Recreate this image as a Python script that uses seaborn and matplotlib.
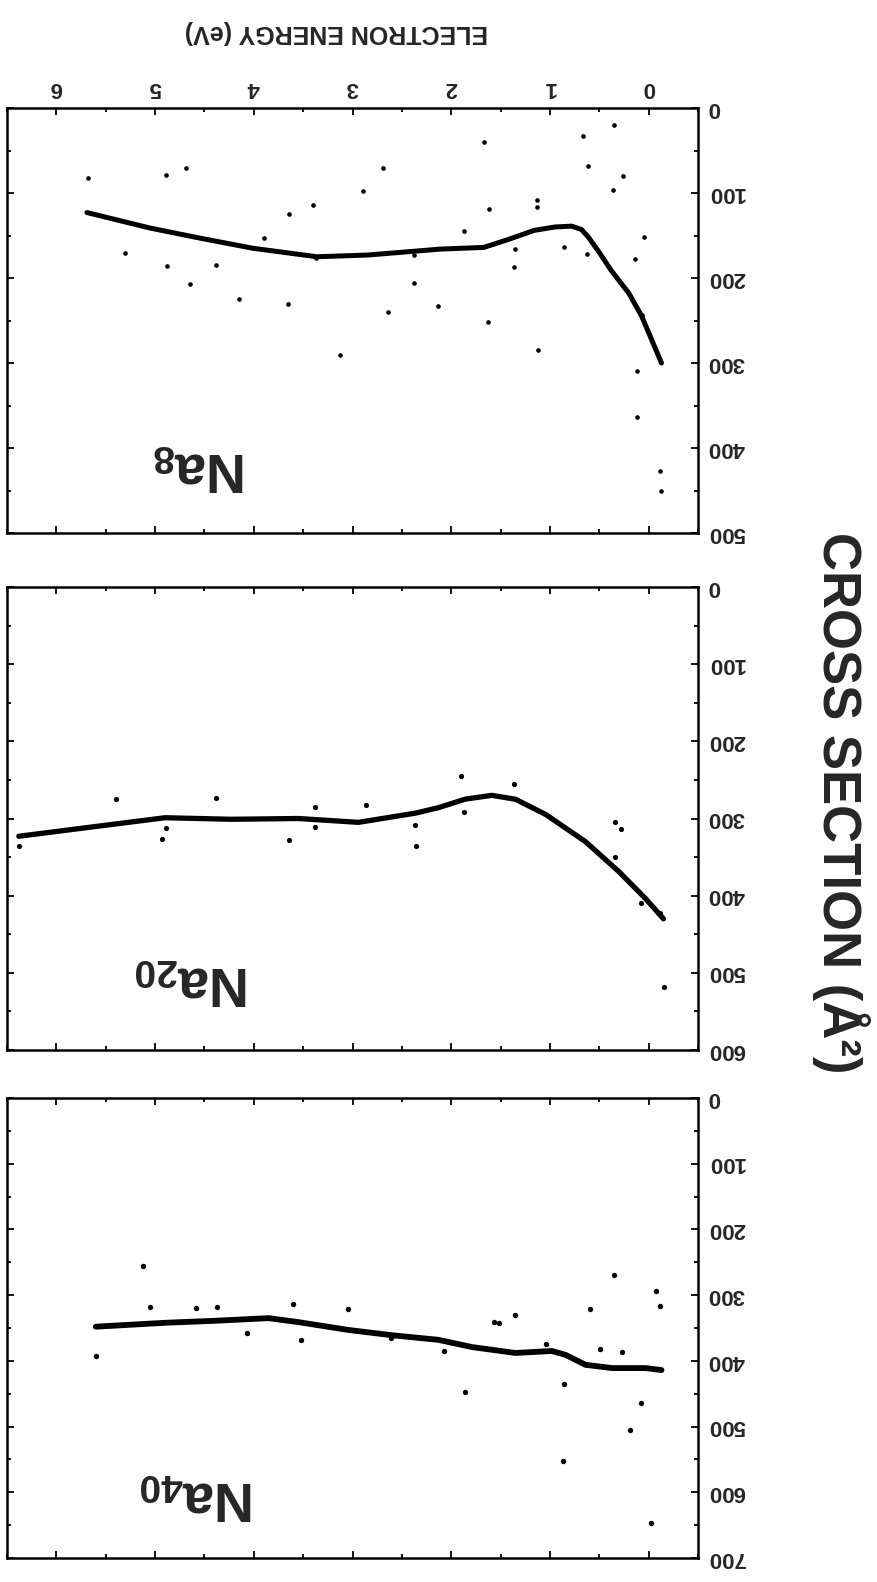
import seaborn as sns
import matplotlib.pyplot as plt
from matplotlib import ticker
from matplotlib.transforms import ScaledTranslation
import pandas as pd

# values: electron energy (eV) vs cross section (A^2)
na8_curve_e = [5.69, 5.06, 4.55, 4.01, 3.36, 2.85, 2.11, 1.67, 1.43, 1.16, 0.95, 0.78, 0.68, 0.61, 0.50, 0.38, 0.20, 0.07, -0.13]
na8_curve_s = [123, 141, 153, 165, 175, 173, 166, 164, 155, 144, 140, 139, 143, 152, 170, 191, 218, 245, 300]
na8_pts_e = [5.68, 4.89, 4.69, 2.69, 2.89, 3.40, 3.64, 3.90, 5.30, 4.88, 4.38, 4.65, 2.38, 4.15, 3.65,
             2.64, 2.13, 3.37, 2.38, 3.13, 0.35, 0.66, 1.67, 0.61, 0.26, 0.36, 1.13, 1.13, 1.62, 1.87,
             0.05, 1.35, 0.86, 0.62, 1.36, 0.14, 1.63, 1.12, 0.12, 0.12, -0.12, -0.13, 0.07]
na8_pts_s = [82, 79, 71, 70, 98, 114, 125, 153, 170, 186, 185, 207, 206, 225, 231,
             240, 233, 176, 173, 291, 20, 33, 40, 68, 80, 97, 108, 117, 119, 145,
             152, 166, 164, 172, 187, 178, 252, 285, 309, 363, 427, 451, 243]

na20_curve_e = [6.38, 5.58, 4.90, 4.23, 3.55, 2.94, 2.36, 2.13, 1.86, 1.59, 1.35, 1.04, 0.64, 0.30, 0.03, -0.15]
na20_curve_s = [323, 310, 299, 301, 300, 305, 293, 286, 275, 270, 275, 295, 330, 369, 404, 430]
na20_pts_e = [6.38, 5.40, 4.89, 4.93, 4.38, 3.64, 3.38, 3.38, 2.86, 2.37, 2.36, 1.90, 1.87, 1.36,
              0.34, 0.28, 0.34, 0.08, -0.11, -0.16]
na20_pts_s = [336, 275, 312, 327, 273, 328, 285, 311, 283, 309, 335, 245, 292, 255,
              305, 313, 350, 409, 423, 518]

na40_curve_e = [5.60, 4.89, 4.39, 3.85, 3.55, 3.04, 2.60, 2.13, 1.79, 1.35, 0.98, 0.84, 0.64, 0.37, 0.03, -0.13]
na40_curve_s = [348, 342, 339, 335, 341, 353, 361, 368, 379, 388, 385, 391, 406, 411, 411, 414]
na40_pts_e = [5.60, 5.12, 5.05, 4.59, 4.37, 4.07, 3.60, 3.52, 3.05, 2.61, 2.07, 1.86, 1.57, 1.52,
              1.35, 1.04, 0.86, 0.87, 0.59, 0.49, 0.35, 0.27, 0.08, 0.19, -0.02, -0.07, -0.11]
na40_pts_s = [393, 256, 318, 320, 318, 358, 314, 368, 321, 365, 385, 448, 341, 343,
              330, 374, 435, 552, 321, 382, 269, 387, 464, 505, 647, 294, 317]

panel_names = ['Na$_{8}$', 'Na$_{20}$', 'Na$_{40}$']
panel_ymax = [500, 600, 700]

sns.set_style('ticks')
plt.rcParams['font.family'] = ['Liberation Sans', 'DejaVu Sans']
plt.rcParams['font.weight'] = 'bold'
plt.rcParams['mathtext.fontset'] = 'custom'
plt.rcParams['mathtext.rm'] = 'Liberation Sans:bold'
plt.rcParams['mathtext.it'] = 'Liberation Sans:bold'
plt.rcParams['mathtext.bf'] = 'Liberation Sans:bold'

W, H = 878, 1582
fig = plt.figure(figsize=(W / 100, H / 100), dpi=100)

# panel boxes in pixels: left, top, right, bottom (the page is upside down)
boxes = [(7, 108, 698, 533), (7, 587, 698, 1050), (7, 1098, 698, 1558)]
name_pos = [(0.279, 0.155), (0.269, 0.150), (0.275, 0.136)]
line_w = [3.6, 3.8, 4.2]
dot_s = [11, 14, 15]

data = [
    (na8_curve_e, na8_curve_s, na8_pts_e, na8_pts_s),
    (na20_curve_e, na20_curve_s, na20_pts_e, na20_pts_s),
    (na40_curve_e, na40_curve_s, na40_pts_e, na40_pts_s),
]

axes = []
for i, (ce, cs, pe, ps) in enumerate(data):
    l, t, r, b = boxes[i]
    ax = fig.add_axes([l / W, 1 - b / H, (r - l) / W, (b - t) / H])
    axes.append(ax)
    curve = pd.DataFrame({'e': ce, 's': cs})
    pts = pd.DataFrame({'e': pe, 's': ps})
    sns.lineplot(data=curve, x='e', y='s', ax=ax, color='black', lw=line_w[i],
                 sort=False, solid_capstyle='round', solid_joinstyle='round')
    sns.scatterplot(data=pts, x='e', y='s', ax=ax, color='black', s=dot_s[i],
                    linewidth=0, zorder=3)

    ax.set_xlim(6.5, -0.5)
    ax.set_ylim(panel_ymax[i], 0)
    ax.xaxis.set_major_locator(ticker.MultipleLocator(1))
    ax.xaxis.set_minor_locator(ticker.MultipleLocator(0.5))
    ax.yaxis.set_major_locator(ticker.FixedLocator(range(0, panel_ymax[i] + 1, 100)))
    ax.yaxis.set_minor_locator(ticker.MultipleLocator(50))
    ax.set_xlabel('')
    ax.set_ylabel('')
    ax.tick_params(which='both', direction='in', top=True, bottom=True, left=True, right=True,
                   labelleft=False, labelright=True, labelbottom=False, labeltop=(i == 0),
                   width=1.3, color='black')
    ax.tick_params(which='major', length=5, pad=7, labelsize=16, labelrotation=180)
    ax.tick_params(which='minor', length=3)
    for sp in ax.spines.values():
        sp.set_linewidth(1.8)
        sp.set_color('black')
    ax.text(name_pos[i][0], name_pos[i][1], panel_names[i], transform=ax.transAxes,
            rotation=180, ha='center', va='center', fontsize=40, fontweight='bold')

fig.text(336 / W, 1 - 32 / H, 'ELECTRON ENERGY (eV)', rotation=180, ha='center', va='center',
         fontsize=18, fontweight='bold')
fig.text(841 / W, 1 - 803 / H, 'CROSS SECTION (Å²)', rotation=-90, ha='center', va='center',
         fontsize=38, fontweight='bold')

# upside-down labels sit a little low; nudge the right-hand ones up
fig.canvas.draw()
nudge = ScaledTranslation(0, 2.4 / 72, fig.dpi_scale_trans)
for ax in axes:
    for tick in ax.yaxis.get_major_ticks():
        tick.label2.set_transform(tick.label2.get_transform() + nudge)

fig.savefig('out.png', dpi=100, facecolor='white')
